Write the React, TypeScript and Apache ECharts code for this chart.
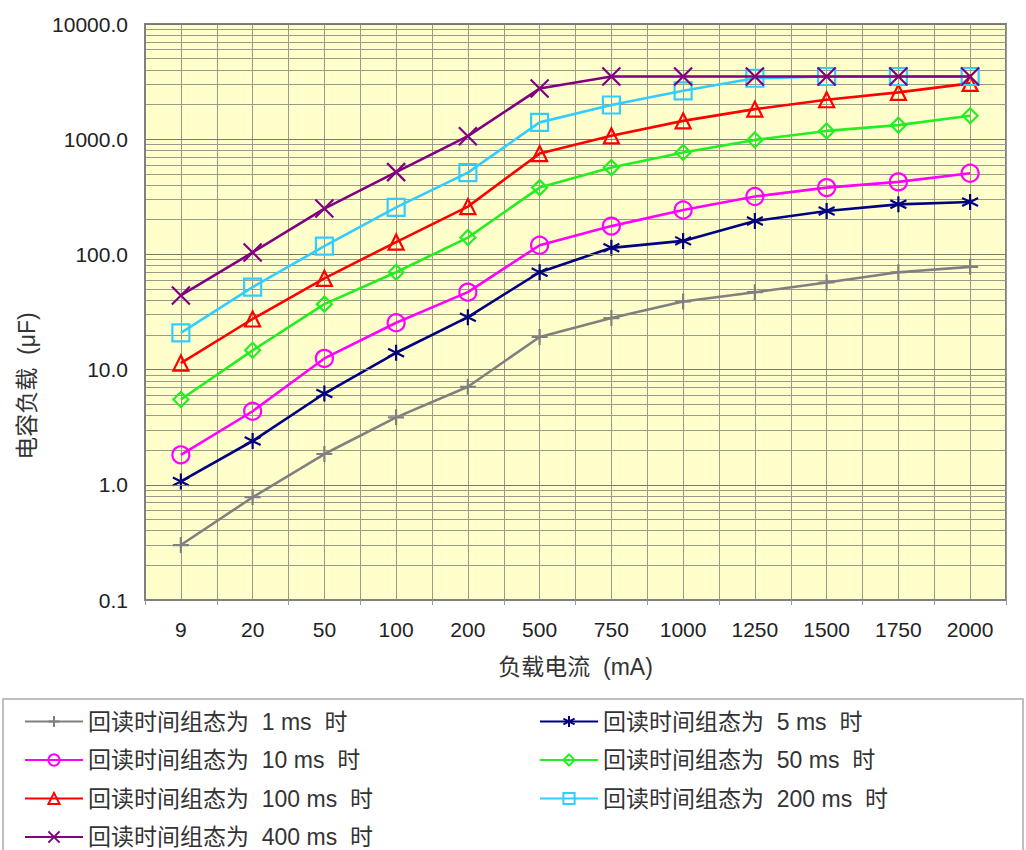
import React, { useEffect, useRef } from "react";
import * as echarts from "echarts";

const categories = ["9", "20", "50", "100", "200", "500", "750", "1000", "1250", "1500", "1750", "2000"];
const yTickValues = [0.1, 1, 10, 100, 1000, 10000];

const s1ms = [0.3, 0.78, 1.85, 3.85, 7.1, 19.2, 28, 39, 47, 57, 70, 78];
const s5ms = [1.07, 2.4, 6.2, 14, 28.5, 70, 114, 131, 195, 238, 272, 285];
const s10ms = [1.82, 4.35, 12.5, 25.5, 47, 120, 176, 243, 318, 380, 426, 506];
const s50ms = [5.5, 14.7, 37, 70, 140, 380, 567, 766, 986, 1180, 1324, 1600];
const s100ms = [11.4, 27.5, 62, 128, 260, 750, 1070, 1443, 1824, 2200, 2550, 3050];
const s200ms = [20.8, 52, 118, 256, 513, 1400, 1980, 2630, 3380, 3500, 3500, 3500];
const s400ms = [44, 104, 250, 518, 1062, 2750, 3500, 3500, 3500, 3500, 3500, 3500];

const names = [
  "回读时间组态为  1 ms  时",
  "回读时间组态为  5 ms  时",
  "回读时间组态为  10 ms  时",
  "回读时间组态为  50 ms  时",
  "回读时间组态为  100 ms  时",
  "回读时间组态为  200 ms  时",
  "回读时间组态为  400 ms  时",
];
const colors = ["#808080", "#000080", "#FF00FF", "#22EE22", "#FF0000", "#33CCFF", "#800080"];
const symbols = [
  "path://M5,0 L5,10 M0,5 L10,5",
  "path://M5,0 L5,10 M0.67,2.5 L9.33,7.5 M9.33,2.5 L0.67,7.5",
  "circle",
  "diamond",
  "triangle",
  "rect",
  "path://M0,0 L10,10 M10,0 L0,10",
];
const symbolSizes = [16, 16, 17, 15, 15, 17, 18];
const openShape = [false, false, true, true, true, true, false];
const allSeries = [s1ms, s5ms, s10ms, s50ms, s100ms, s200ms, s400ms];

// minor log gridlines (2..9 within each decade)
const decades = [0.1, 1, 10, 100, 1000];
const minorMultipliers = [2, 3, 4, 5, 6, 7, 8, 9];

const FONT = '"Liberation Sans", Arial, "Noto Sans CJK SC", sans-serif';
const GRID_COLOR = "#9a9a88";

export default function App() {
  const ref = useRef<HTMLDivElement>(null);

  useEffect(() => {
    if (!ref.current) return;
    const chart = echarts.init(ref.current, undefined, { renderer: "svg" });

    const minorLines: { yAxis: number }[] = [];
    decades.forEach((d) => minorMultipliers.forEach((m) => minorLines.push({ yAxis: d * m })));

    const series: any[] = allSeries.map((data, i) => ({
      name: names[i],
      type: "line",
      data,
      xAxisIndex: 0,
      yAxisIndex: 0,
      symbol: symbols[i],
      symbolSize: symbolSizes[i],
      showSymbol: true,
      lineStyle: { color: colors[i], width: 2.6 },
      itemStyle: {
        color: openShape[i] ? "transparent" : colors[i],
        borderColor: colors[i],
        borderWidth: 2.2,
      },
      z: 3 + i,
      markLine:
        i === 0
          ? {
              silent: true,
              symbol: "none",
              label: { show: false },
              lineStyle: { color: GRID_COLOR, width: 1, type: "solid" },
              data: minorLines,
              z: 1,
            }
          : undefined,
    }));

    const legendCommon = {
      orient: "vertical",
      top: 710,
      padding: 0,
      itemWidth: 58,
      itemHeight: 14,
      itemGap: 15.5,
      textStyle: { fontSize: 23, lineHeight: 23, color: "#333", fontFamily: FONT },
    };

    const option: any = {
      animation: false,
      backgroundColor: "#ffffff",
      textStyle: { fontFamily: FONT },
      grid: {
        left: 145,
        top: 24,
        width: 861,
        height: 576,
        show: true,
        backgroundColor: "#FFFFCC",
        borderColor: "#808080",
        borderWidth: 2,
        containLabel: false,
      },
      xAxis: [
        {
          type: "category",
          data: categories,
          boundaryGap: true,
          position: "bottom",
          name: "负载电流  (mA)",
          nameLocation: "middle",
          nameGap: 55,
          nameTextStyle: { fontSize: 23, color: "#333", fontFamily: FONT },
          axisLine: { show: true, lineStyle: { color: "#808080", width: 2 } },
          axisTick: { show: true, length: 5, lineStyle: { color: "#999" } },
          axisLabel: { fontSize: 21, color: "#222", margin: 19, fontFamily: FONT },
          splitLine: { show: false },
          z: 5,
        },
        {
          type: "value",
          min: 0,
          max: 24,
          interval: 1,
          position: "top",
          axisLine: { show: false },
          axisTick: { show: false },
          axisLabel: { show: false },
          splitLine: { show: true, lineStyle: { color: GRID_COLOR, width: 1 } },
        },
      ],
      yAxis: {
        type: "log",
        logBase: 10,
        min: yTickValues[0],
        max: yTickValues[yTickValues.length - 1],
        axisLine: { show: true, lineStyle: { color: "#808080", width: 2 } },
        axisTick: { show: false },
        axisLabel: {
          fontSize: 21,
          color: "#222",
          margin: 17,
          fontFamily: FONT,
          formatter: (v: number) => Number(v).toFixed(1),
        },
        splitLine: { show: true, lineStyle: { color: "#7a7a6a", width: 1 } },
        z: 5,
      },
      legend: [
        { ...legendCommon, left: 24, data: [names[0], names[2], names[4], names[6]] },
        { ...legendCommon, left: 539, data: [names[1], names[3], names[5]] },
      ],
      graphic: [
        {
          type: "rect",
          shape: { x: 3, y: 699, width: 1020, height: 170 },
          style: { fill: "none", stroke: "#aaaaaa", lineWidth: 1.5 },
          silent: true,
        },
        {
          type: "text",
          x: 27,
          y: 386,
          rotation: Math.PI / 2,
          style: {
            text: "电容负载  (μF)",
            fontSize: 23,
            fill: "#333",
            fontFamily: FONT,
            align: "center",
            verticalAlign: "middle",
          },
        },
      ],
      series,
    };

    chart.setOption(option);
    return () => chart.dispose();
  }, []);

  return (
    <div
      ref={ref}
      style={{ position: "fixed", left: 0, top: 0, width: 1026, height: 850 }}
    />
  );
}
